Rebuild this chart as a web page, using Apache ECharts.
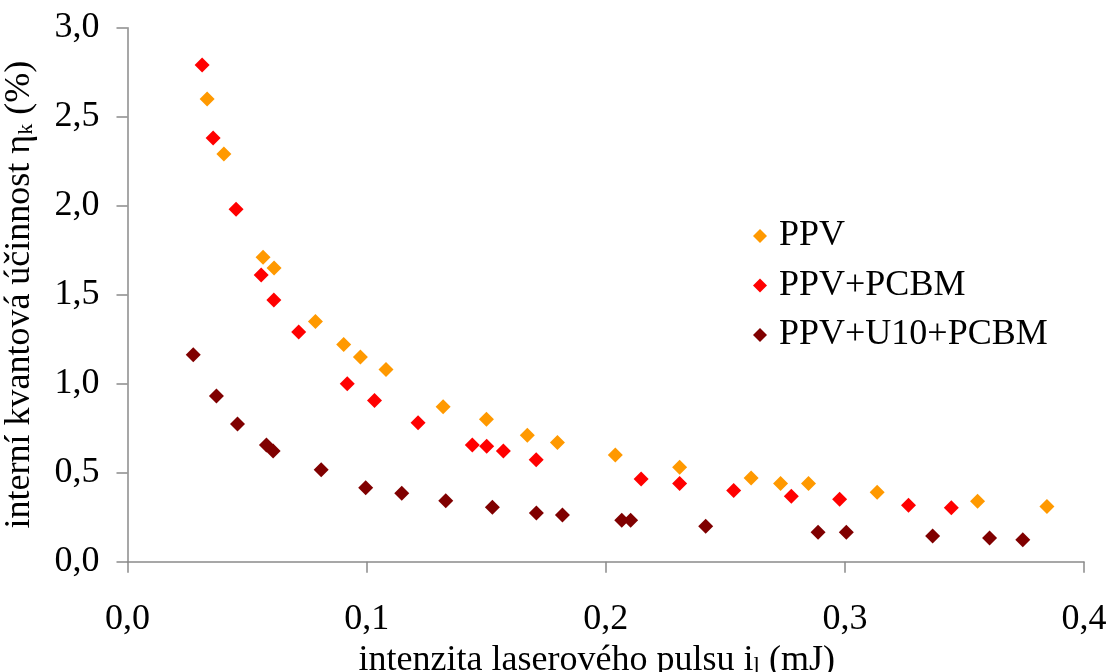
<!DOCTYPE html>
<html>
<head>
<meta charset="utf-8">
<script src="https://cdn.jsdelivr.net/npm/echarts@6/dist/echarts.min.js"></script>
<style>
  html, body { margin: 0; padding: 0; background: #fff; }
  #chart { width: 1109px; height: 672px; }
</style>
</head>
<body>
<div id="chart"></div>
<script>
// Laser pulse intensity (mJ) and internal quantum efficiency (%) per sample
const ppv = [
  [0.0333, 2.60], [0.0403, 2.29], [0.0567, 1.71], [0.0613, 1.65],
  [0.0786, 1.35], [0.0904, 1.22], [0.0974, 1.15], [0.1081, 1.08],
  [0.1320, 0.87], [0.1501, 0.80], [0.1672, 0.71], [0.1798, 0.67],
  [0.2040, 0.60], [0.2309, 0.53], [0.2608, 0.47], [0.2731, 0.44],
  [0.2848, 0.44], [0.3135, 0.39], [0.3555, 0.34], [0.3845, 0.31]
];
const ppvPcbm = [
  [0.0312, 2.79], [0.0358, 2.38], [0.0454, 1.98], [0.0559, 1.61],
  [0.0612, 1.47], [0.0716, 1.29], [0.0919, 1.00], [0.1033, 0.905],
  [0.1215, 0.78], [0.1442, 0.656], [0.1502, 0.648], [0.1572, 0.622],
  [0.1709, 0.573], [0.2148, 0.465], [0.2309, 0.44], [0.2535, 0.40],
  [0.2776, 0.367], [0.2978, 0.351], [0.3266, 0.317], [0.3445, 0.303]
];
const ppvU10Pcbm = [
  [0.0275, 1.163], [0.0372, 0.931], [0.0460, 0.774], [0.0581, 0.656],
  [0.0609, 0.622], [0.0810, 0.517], [0.0996, 0.416], [0.1147, 0.384],
  [0.1331, 0.343], [0.1526, 0.306], [0.1710, 0.274], [0.1819, 0.262],
  [0.2067, 0.233], [0.2104, 0.233], [0.2418, 0.199], [0.2888, 0.165],
  [0.3006, 0.165], [0.3367, 0.144], [0.3605, 0.133], [0.3744, 0.124]
];
const seriesNames = ['PPV', 'PPV+PCBM', 'PPV+U10+PCBM'];
const seriesColors = ['#FF9900', '#FF0000', '#800000'];
const xTicks = { min: 0, max: 0.4, step: 0.1 };
const yTicks = { min: 0, max: 3.0, step: 0.5 };

const serif = '"Liberation Serif", "Times New Roman", serif';
const fontSize = 36;
const axisGrey = '#8a8a8a';
const decimalComma = v => v.toFixed(1).replace('.', ',');

// rich styles for axis titles with a lowered subscript
const titleRich = subSize => ({
  t: { fontFamily: serif, fontSize: fontSize, color: '#000', lineHeight: 36 },
  s: { fontFamily: serif, fontSize: subSize, color: '#000', lineHeight: 16, verticalAlign: 'bottom' }
});

const chart = echarts.init(document.getElementById('chart'), null, { renderer: 'canvas' });

chart.setOption({
  animation: false,
  backgroundColor: '#ffffff',
  textStyle: { fontFamily: serif, color: '#000' },
  grid: {
    left: 127.5, right: 25, top: 27.7, bottom: 110.3,
    containLabel: false,
    outerBoundsMode: 'none'
  },
  legend: {
    orient: 'vertical',
    left: 748,
    top: 211,
    itemWidth: 14,
    itemHeight: 14,
    itemGap: 9.5,
    icon: 'diamond',
    data: seriesNames,
    textStyle: { fontFamily: serif, fontSize: fontSize, color: '#000', lineHeight: 40, padding: [0, 0, 0, 7] }
  },
  xAxis: {
    type: 'value',
    min: xTicks.min, max: xTicks.max, interval: xTicks.step,
    splitLine: { show: false },
    axisLine: { show: true, lineStyle: { color: axisGrey, width: 1.5 } },
    axisTick: { show: true, length: 11, lineStyle: { color: axisGrey, width: 1.5 } },
    axisLabel: { fontFamily: serif, fontSize: fontSize, color: '#000', margin: 40, formatter: decimalComma },
    name: '{t|intenzita laserového pulsu i}{s|l}{t| (mJ)}',
    nameLocation: 'middle',
    nameGap: 71,
    nameTextStyle: { padding: [0, 18, 0, 0], rich: titleRich(23) }
  },
  yAxis: {
    type: 'value',
    min: yTicks.min, max: yTicks.max, interval: yTicks.step,
    splitLine: { show: false },
    axisLine: { show: true, lineStyle: { color: axisGrey, width: 1.5 } },
    axisTick: { show: true, length: 11, lineStyle: { color: axisGrey, width: 1.5 } },
    axisLabel: { fontFamily: serif, fontSize: fontSize, color: '#000', margin: 28, formatter: decimalComma },
    name: '{t|interní kvantová účinnost η}{s|k}{t| (%)}',
    nameLocation: 'middle',
    nameGap: 90,
    nameTextStyle: { rich: titleRich(22) }
  },
  series: [ppv, ppvPcbm, ppvU10Pcbm].map((d, i) => ({
    name: seriesNames[i],
    type: 'scatter',
    symbol: 'diamond',
    symbolSize: 15,
    itemStyle: { color: seriesColors[i], opacity: 1 },
    data: d
  }))
});
</script>
</body>
</html>
